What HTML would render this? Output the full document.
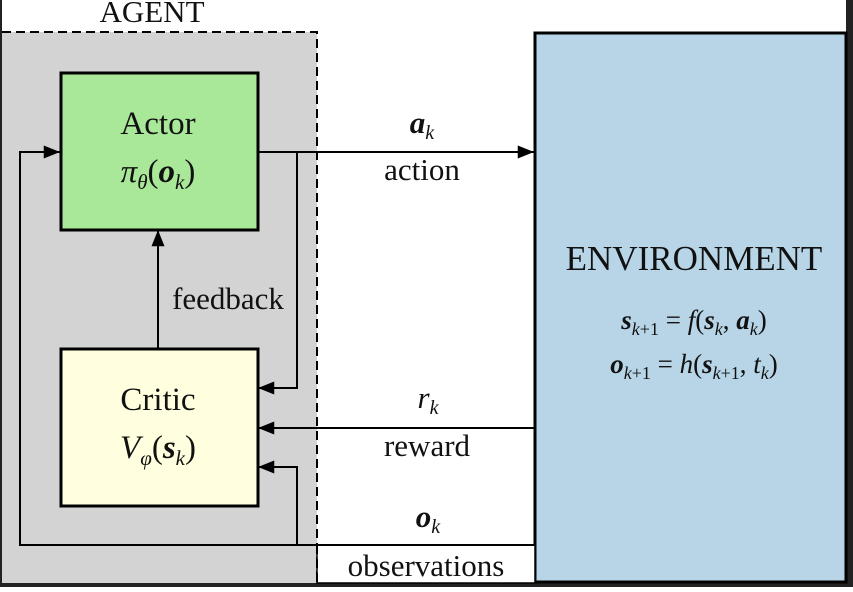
<!DOCTYPE html>
<html><head><meta charset="utf-8"><style>
body{margin:0;background:#fff;width:853px;height:587px;overflow:hidden}
text,tspan{font-family:"Liberation Serif","DejaVu Serif",serif !important;fill:#111}
</style></head><body>
<svg width="853" height="587" viewBox="0 0 853 587" font-family="Liberation Serif, serif">
<defs><marker id="ah" viewBox="0 0 10 8" refX="10" refY="4" markerWidth="18" markerHeight="13" markerUnits="userSpaceOnUse" orient="auto"><path d="M0,0L10,4L0,8z" fill="#000"/></marker></defs>
<rect x="0" y="0" width="853" height="587" fill="#fff"/>
<rect x="846" y="0" width="7" height="587" fill="#222"/>
<rect x="0" y="583" width="853" height="4" fill="#222"/>
<rect x="0" y="0" width="2" height="587" fill="#222"/>
<g>
<rect x="2" y="32" width="315" height="551" fill="#d3d3d3"/>
<path d="M2,32H317V583" fill="none" stroke="#000" stroke-width="2" stroke-dasharray="9,5"/>
<text x="152" y="22" font-size="31" text-anchor="middle">AGENT</text>
</g>
<g>
<rect x="535" y="33" width="311" height="549" fill="#b7d5e6" stroke="#000" stroke-width="3"/>
<text x="694" y="270" font-size="35" text-anchor="middle">ENVIRONMENT</text>
<text x="694" y="329" font-size="27" text-anchor="middle"><tspan font-weight="bold" font-style="italic">s</tspan><tspan font-size="18" dy="6" font-style="italic">k</tspan><tspan font-size="18">+1</tspan><tspan dy="-6"> = </tspan><tspan font-style="italic">f</tspan>(<tspan font-weight="bold" font-style="italic">s</tspan><tspan font-size="18" dy="6" font-style="italic">k</tspan><tspan dy="-6">, </tspan><tspan font-weight="bold" font-style="italic">a</tspan><tspan font-size="18" dy="6" font-style="italic">k</tspan><tspan dy="-6">)</tspan></text>
<text x="694" y="373" font-size="27" text-anchor="middle"><tspan font-weight="bold" font-style="italic">o</tspan><tspan font-size="18" dy="6" font-style="italic">k</tspan><tspan font-size="18">+1</tspan><tspan dy="-6"> = </tspan><tspan font-style="italic">h</tspan>(<tspan font-weight="bold" font-style="italic">s</tspan><tspan font-size="18" dy="6" font-style="italic">k</tspan><tspan font-size="18">+1</tspan><tspan dy="-6">, </tspan><tspan font-style="italic">t</tspan><tspan font-size="18" dy="6" font-style="italic">k</tspan><tspan dy="-6">)</tspan></text>
</g>
<rect x="317" y="545" width="218" height="38" fill="#fff" stroke="#000" stroke-width="1.5"/>
<path d="M317,545V583" stroke="#000" stroke-width="2" stroke-dasharray="9,5"/>
<g>
<rect x="61" y="73" width="197" height="157" fill="#a8e898" stroke="#000" stroke-width="3"/>
<text x="158" y="134" font-size="33" text-anchor="middle">Actor</text>
<text x="158" y="182" font-size="33" text-anchor="middle"><tspan font-style="italic">π</tspan><tspan font-size="21" dy="7" font-style="italic">θ</tspan><tspan dy="-7">(</tspan><tspan font-weight="bold" font-style="italic">o</tspan><tspan font-size="21" dy="7" font-style="italic">k</tspan><tspan dy="-7">)</tspan></text>
</g>
<g>
<rect x="61" y="349" width="197" height="157" fill="#ffffdf" stroke="#000" stroke-width="3"/>
<text x="158" y="410" font-size="33" text-anchor="middle">Critic</text>
<text x="158" y="458" font-size="33" text-anchor="middle"><tspan font-style="italic">V</tspan><tspan font-size="21" dy="7" font-style="italic">φ</tspan><tspan dy="-7">(</tspan><tspan font-weight="bold" font-style="italic">s</tspan><tspan font-size="21" dy="7" font-style="italic">k</tspan><tspan dy="-7">)</tspan></text>
</g>
<g fill="none" stroke="#000" stroke-width="2">
<path d="M258,152H534" marker-end="url(#ah)"/>
<path d="M297,152V388H258" marker-end="url(#ah)"/>
<path d="M158,349V230" marker-end="url(#ah)"/>
<path d="M534,428H258" marker-end="url(#ah)"/>
<path d="M534,545H20V152H60" marker-end="url(#ah)"/>
<path d="M297,545V467H258" marker-end="url(#ah)"/>
</g>
<text x="228" y="309" font-size="31" text-anchor="middle">feedback</text>
<text x="422" y="133" font-size="31" text-anchor="middle"><tspan font-weight="bold" font-style="italic">a</tspan><tspan font-size="20" dy="6" font-style="italic">k</tspan></text>
<text x="422" y="180" font-size="31" text-anchor="middle">action</text>
<text x="428" y="408" font-size="31" text-anchor="middle"><tspan font-style="italic">r</tspan><tspan font-size="20" dy="6" font-style="italic">k</tspan></text>
<text x="427" y="456" font-size="31" text-anchor="middle">reward</text>
<text x="428" y="527" font-size="31" text-anchor="middle"><tspan font-weight="bold" font-style="italic">o</tspan><tspan font-size="20" dy="6" font-style="italic">k</tspan></text>
<text x="426" y="576" font-size="31" text-anchor="middle">observations</text>
</svg>
</body></html>
